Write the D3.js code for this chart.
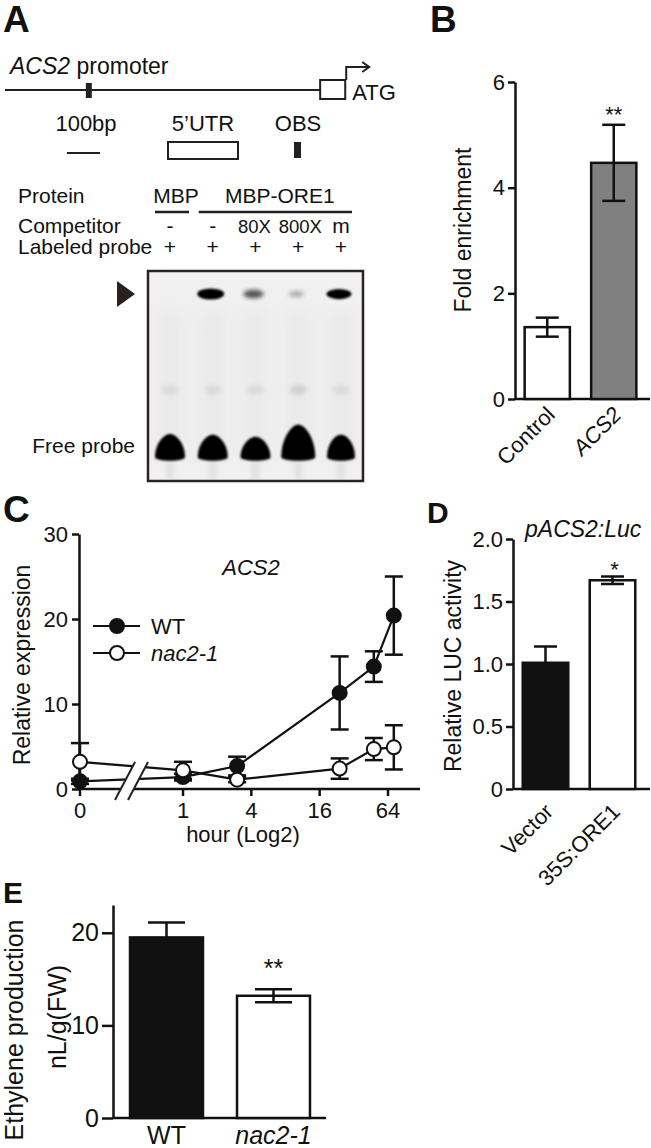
<!DOCTYPE html>
<html><head><meta charset="utf-8">
<script src="https://cdn.jsdelivr.net/npm/d3@7"></script>
<style>
body{margin:0;background:#fff;}
svg text{font-family:"Liberation Sans",Arial,Helvetica,sans-serif;fill:#111;}
</style></head><body>
<svg id="fig" width="651" height="1148"></svg>
<script>
// ---------------- DATA ----------------
// Panel A – promoter diagram (bp)
const promoterLengthBp = 955;
const obsStartBp = 245;
const obsWidthBp = 18;
const utrLengthBp = 76;
const scaleBarBp = 100;
const diagramLabels = ["100bp", "5\u2019UTR", "OBS"];
// Panel A – EMSA
const gelProtein = ["MBP", "MBP-ORE1"];
const gelCompetitor = ["-", "-", "80X", "800X", "m"];
const gelProbe = ["+", "+", "+", "+", "+"];
const complexBand = [0, 1.0, 0.5, 0.12, 0.85];
const freeProbe = [1.0, 0.97, 0.9, 1.35, 0.97];
// Panel B
const bCategories = ["Control", "ACS2"];
const bItalic = [false, true];
const bMeans = [1.36, 4.47];
const bErr = [0.18, 0.72];
const bTicks = [0, 2, 4, 6];
// Panel C
const cTimes = [0, 1, 3, 24, 48, 72];
const wtMean = [0.9, 1.4, 2.7, 11.3, 14.4, 20.4];
const wtErr = [0.3, 0.4, 1.1, 4.3, 1.8, 4.6];
const nacMean = [3.2, 2.2, 1.1, 2.4, 4.7, 4.9];
const nacErr = [2.2, 1.0, 0.3, 1.2, 1.3, 2.6];
const cYTicks = [0, 10, 20, 30];
const cXTicks = [0, 1, 4, 16, 64];
// Panel D
const dCategories = ["Vector", "35S:ORE1"];
const dMeans = [1.01, 1.67];
const dErr = [0.13, 0.03];
const dTicks = [0, 0.5, 1.0, 1.5, 2.0];
const dTickLabels = ["0", "0.5", "1.0", "1.5", "2.0"];
// Panel E
const eCategories = ["WT", "nac2-1"];
const eItalic = [false, true];
const eMeans = [19.5, 13.2];
const eErr = [1.6, 0.7];
const eTicks = [0, 10, 20];

// ---------------- HELPERS ----------------
const FONT = '"Liberation Sans",Arial,Helvetica,sans-serif';
const INK = "#111";
const svg = d3.select("#fig");
svg.append("rect").attr("width", 651).attr("height", 1148).attr("fill", "#fff");
const defs = svg.append("defs");
function blur(id, sd) {
  defs.append("filter").attr("id", id).attr("x", "-80%").attr("y", "-80%")
    .attr("width", "260%").attr("height", "260%")
    .append("feGaussianBlur").attr("stdDeviation", sd);
}
blur("b1", 1.0); blur("b2", 2); blur("b4", 4); blur("b8", 8);

function text(g, t, x, y, size, opts = {}) {
  const el = g.append("text").attr("x", x).attr("y", y).attr("font-size", size)
    .attr("text-anchor", opts.anchor || "start").text(t);
  if (opts.italic) el.attr("font-style", "italic");
  if (opts.bold) el.attr("font-weight", "bold");
  if (opts.rotate !== undefined) el.attr("transform", `rotate(${opts.rotate},${x},${y})`);
  return el;
}
function styleAxis(g, size) {
  g.attr("font-family", FONT).attr("font-size", size);
  g.selectAll("path,line").attr("stroke", INK).attr("stroke-width", 2.5);
  g.selectAll("text").attr("fill", INK);
}
function errorBars(g, cx, yScale, means, errs, capHalf, color) {
  const d = means.map((m, i) => ({ x: cx(i), m, e: errs[i] }));
  const eg = g.append("g").attr("stroke", color || INK).attr("stroke-width", 2.5);
  eg.selectAll(".v").data(d).join("line")
    .attr("x1", p => p.x).attr("x2", p => p.x)
    .attr("y1", p => yScale(p.m - p.e)).attr("y2", p => yScale(p.m + p.e));
  eg.selectAll(".t").data(d).join("line")
    .attr("x1", p => p.x - capHalf).attr("x2", p => p.x + capHalf)
    .attr("y1", p => yScale(p.m + p.e)).attr("y2", p => yScale(p.m + p.e));
  eg.selectAll(".b").data(d).join("line")
    .attr("x1", p => p.x - capHalf).attr("x2", p => p.x + capHalf)
    .attr("y1", p => yScale(p.m - p.e)).attr("y2", p => yScale(p.m - p.e));
}

// ---------------- PANEL LETTERS ----------------
text(svg, "A", 3, 32, 37, { bold: true });
text(svg, "B", 430, 32, 37, { bold: true });
text(svg, "C", 3, 522, 37, { bold: true });
text(svg, "D", 427, 523, 30, { bold: true });
text(svg, "E", 3, 903, 30, { bold: true });

// ---------------- PANEL A: promoter ----------------
const gA = svg.append("g");
const bp = d3.scaleLinear().domain([0, 100]).range([0, 33]);
const pX0 = 5, pY = 90, ink2 = "#231f20";
gA.append("line").attr("x1", pX0).attr("x2", pX0 + bp(promoterLengthBp)).attr("y1", pY).attr("y2", pY)
  .attr("stroke", ink2).attr("stroke-width", 2);
gA.append("rect").attr("x", pX0 + bp(obsStartBp)).attr("width", bp(obsWidthBp)).attr("y", pY - 7).attr("height", 15)
  .attr("fill", ink2);
const utrX = pX0 + bp(promoterLengthBp);
gA.append("rect").attr("x", utrX).attr("width", bp(utrLengthBp)).attr("y", pY - 10).attr("height", 19)
  .attr("fill", "#fff").attr("stroke", ink2).attr("stroke-width", 2);
const arrX = utrX + bp(utrLengthBp) + 1;
gA.append("path").attr("d", `M${arrX},${pY - 10} V${pY - 23} H${arrX + 22}`)
  .attr("fill", "none").attr("stroke", ink2).attr("stroke-width", 2);
gA.append("path").attr("d", `M${arrX + 16},${pY - 28} L${arrX + 23},${pY - 23} L${arrX + 16},${pY - 18}`)
  .attr("fill", "none").attr("stroke", ink2).attr("stroke-width", 2);
const t1 = gA.append("text").attr("x", 10).attr("y", 74).attr("font-size", 23);
t1.append("tspan").attr("font-style", "italic").text("ACS2");
t1.append("tspan").text(" promoter");
text(gA, "ATG", arrX + 6, 100, 22);
// legend of diagram
const legX = [86, 203, 298];
diagramLabels.forEach((l, i) => text(gA, l, legX[i], 131, 22, { anchor: "middle" }));
gA.append("line").attr("x1", 67).attr("x2", 67 + bp(scaleBarBp)).attr("y1", 153).attr("y2", 153)
  .attr("stroke", ink2).attr("stroke-width", 2);
gA.append("rect").attr("x", 168).attr("y", 142).attr("width", 70).attr("height", 17)
  .attr("fill", "#fff").attr("stroke", ink2).attr("stroke-width", 2);
gA.append("rect").attr("x", 294).attr("y", 142).attr("width", 7).attr("height", 16).attr("fill", ink2);

// ---------------- PANEL A: EMSA ----------------
const lane = d3.scalePoint().domain(d3.range(gelCompetitor.length)).range([170, 341]);
text(gA, "Protein", 18, 203, 21);
text(gA, "Competitor", 18, 233, 21);
text(gA, "Labeled probe", 18, 254, 21);
text(gA, gelProtein[0], lane(0) + 6, 203, 21, { anchor: "middle" });
text(gA, gelProtein[1], (lane(1) + lane(4)) / 2 + 3, 203, 21, { anchor: "middle" });
gA.append("line").attr("x1", lane(0) - 15).attr("x2", lane(0) + 19).attr("y1", 212).attr("y2", 212)
  .attr("stroke", ink2).attr("stroke-width", 2.5);
gA.append("line").attr("x1", lane(1) - 14).attr("x2", lane(4) + 11).attr("y1", 212).attr("y2", 212)
  .attr("stroke", ink2).attr("stroke-width", 2.5);
gelCompetitor.forEach((c, i) => text(gA, c, lane(i) + (i === 3 ? 2 : i === 2 ? -1 : 0), 233, c.length > 1 ? 18.5 : 21, { anchor: "middle" }));
gelProbe.forEach((c, i) => text(gA, c, lane(i), 254, 21, { anchor: "middle" }));

const gelTop = 271, gelBot = 481, gelL = lane(0) - 22, gelR = lane(4) + 22;
const gel = gA.append("g");
gel.append("rect").attr("x", gelL).attr("y", gelTop).attr("width", gelR - gelL).attr("height", gelBot - gelTop)
  .attr("fill", "#f0f0f0");
// smears
gelCompetitor.forEach((c, i) => {
  gel.append("rect").attr("x", lane(i) - 13).attr("y", 310).attr("width", 26).attr("height", 150)
    .attr("fill", "#999").attr("opacity", 0.07).attr("filter", "url(#b8)");
  gel.append("ellipse").attr("cx", lane(i)).attr("cy", 390).attr("rx", 9).attr("ry", 5)
    .attr("fill", "#888").attr("opacity", i === 3 ? 0.25 : 0.15).attr("filter", "url(#b2)");
  gel.append("rect").attr("x", lane(i) - 4).attr("y", 462).attr("width", 8).attr("height", 17)
    .attr("fill", "#aaa").attr("opacity", 0.2).attr("filter", "url(#b2)");
});
// shifted complex bands
const bandW = d3.scaleLinear().domain([0, 1]).range([14, 27]);
complexBand.forEach((v, i) => {
  if (v <= 0) return;
  gel.append("ellipse").attr("cx", lane(i) - 2).attr("cy", 294).attr("rx", bandW(v) / 2).attr("ry", 3 + 2.5 * v)
    .attr("fill", "#000").attr("opacity", Math.min(1, 0.15 + v)).attr("filter", v > 0.6 ? "url(#b1)" : "url(#b2)");
});
// free probe blobs
const blobH = d3.scaleLinear().domain([0, 1]).range([0, 27]);
freeProbe.forEach((v, i) => {
  const h = blobH(v), w = 15 + (i === 3 ? 2 : 0) - (i === 4 ? 1 : 0), cx = lane(i), b = 461;
  gel.append("path")
    .attr("d", `M${cx - w},${b - 4} C${cx - w},${b - h * 0.6} ${cx - 7},${b - h} ${cx},${b - h}
      C${cx + 7},${b - h} ${cx + w},${b - h * 0.6} ${cx + w},${b - 4}
      C${cx + w},${b + 1} ${cx - w},${b + 1} ${cx - w},${b - 4} Z`)
    .attr("fill", "#000").attr("filter", "url(#b1)");
});
gel.append("rect").attr("x", gelL).attr("y", gelTop).attr("width", gelR - gelL).attr("height", gelBot - gelTop)
  .attr("fill", "none").attr("stroke", "#2a2320").attr("stroke-width", 2.5);
gA.append("path").attr("d", "M117,281 L135,294 L117,307 Z").attr("fill", "#2a2020");
text(gA, "Free probe", 135, 453, 21, { anchor: "end" });

// ---------------- PANEL B ----------------
const gB = svg.append("g");
const yB = d3.scaleLinear().domain([0, 6]).range([399, 82]);
const xB = d3.scaleBand().domain(bCategories).range([514, 647]).paddingInner(0.32).paddingOuter(0.16);
gB.append("g").attr("transform", "translate(515,0)")
  .call(d3.axisLeft(yB).tickValues(bTicks).tickSize(7).tickSizeOuter(0).tickPadding(3).tickFormat(d3.format("d")))
  .call(g => styleAxis(g, 22));
gB.append("line").attr("x1", 515).attr("x2", 650).attr("y1", yB(0)).attr("y2", yB(0))
  .attr("stroke", INK).attr("stroke-width", 2.5);
gB.selectAll(".bar").data(bCategories).join("rect")
  .attr("x", d => xB(d)).attr("width", xB.bandwidth())
  .attr("y", (d, i) => yB(bMeans[i])).attr("height", (d, i) => yB(0) - yB(bMeans[i]))
  .attr("fill", (d, i) => i === 0 ? "#fff" : "#808080").attr("stroke", INK).attr("stroke-width", 2.5);
errorBars(gB, i => xB(bCategories[i]) + xB.bandwidth() / 2, yB, bMeans, bErr, 11.5);
gB.selectAll(".xl").data(bCategories).join("text")
  .attr("transform", d => `translate(${xB(d) + xB.bandwidth() / 2 + 9},${yB(0) + 17}) rotate(-45)`)
  .attr("text-anchor", "end").attr("font-size", 22)
  .attr("font-style", (d, i) => bItalic[i] ? "italic" : "normal").text(d => d);
text(gB, "**", xB("ACS2") + xB.bandwidth() / 2, 122, 22, { anchor: "middle" });
text(gB, "Fold enrichment", 471, 230, 23, { anchor: "middle", rotate: -90 });

// ---------------- PANEL C ----------------
const gC = svg.append("g");
const yC = d3.scaleLinear().domain([0, 30]).range([789, 534]);
const xCLog = d3.scaleLog().base(2).domain([1, 64]).range([183, 388]);
const cAxisX = 79;
const xC = t => t === 0 ? cAxisX + 1 : xCLog(t);
gC.append("g").attr("transform", `translate(${cAxisX},0)`)
  .call(d3.axisLeft(yC).tickValues(cYTicks).tickSize(7).tickSizeOuter(0).tickPadding(4))
  .call(g => styleAxis(g, 22));
gC.append("line").attr("x1", cAxisX).attr("x2", 420).attr("y1", yC(0)).attr("y2", yC(0))
  .attr("stroke", INK).attr("stroke-width", 2.5);
gC.selectAll(".xt").data(cXTicks).join("line")
  .attr("x1", d => xC(d)).attr("x2", d => xC(d)).attr("y1", yC(0)).attr("y2", yC(0) + 7)
  .attr("stroke", INK).attr("stroke-width", 2.5);
gC.selectAll(".xtl").data(cXTicks).join("text")
  .attr("x", d => xC(d)).attr("y", 818).attr("text-anchor", "middle").attr("font-size", 22).text(d => d);
text(gC, "hour (Log2)", 243, 842, 22, { anchor: "middle" });
text(gC, "Relative expression", 30, 665, 23, { anchor: "middle", rotate: -90 });
text(gC, "ACS2", 251, 575, 22, { anchor: "middle", italic: true });

const wtData = cTimes.map((t, i) => ({ t, v: wtMean[i], e: wtErr[i] }));
const nacData = cTimes.map((t, i) => ({ t, v: nacMean[i], e: nacErr[i] }));
const lineGen = d3.line().x(d => xC(d.t)).y(d => yC(d.v));
[nacData, wtData].forEach(ds => {
  gC.append("path").attr("d", lineGen(ds)).attr("fill", "none").attr("stroke", INK).attr("stroke-width", 2.2);
});
// axis break
const bx = (xC(0) + xC(1)) / 2;
const brk = [[bx - 16.5, 800], [bx + 3.5, 762], [bx + 16.5, 762], [bx - 3.5, 800]];
gC.append("path").attr("d", d3.line()(brk) + "Z").attr("fill", "#fff");
gC.append("line").attr("x1", brk[0][0]).attr("y1", brk[0][1]).attr("x2", brk[1][0]).attr("y2", brk[1][1])
  .attr("stroke", "#222").attr("stroke-width", 2);
gC.append("line").attr("x1", brk[3][0]).attr("y1", brk[3][1]).attr("x2", brk[2][0]).attr("y2", brk[2][1])
  .attr("stroke", "#222").attr("stroke-width", 2);
[wtData, nacData].forEach(ds => {
  errorBars(gC, i => xC(ds[i].t), yC, ds.map(d => d.v), ds.map(d => d.e), 9);
});
gC.selectAll(".wt").data(wtData).join("circle")
  .attr("cx", d => xC(d.t)).attr("cy", d => yC(d.v)).attr("r", 7)
  .attr("fill", INK).attr("stroke", INK).attr("stroke-width", 2);
gC.selectAll(".nac").data(nacData).join("circle")
  .attr("cx", d => xC(d.t)).attr("cy", d => yC(d.v)).attr("r", 7)
  .attr("fill", "#fff").attr("stroke", INK).attr("stroke-width", 2);
// legend
[["WT", INK, false, 626], ["nac2-1", "#fff", true, 653]].forEach(([lab, fill, it, y]) => {
  gC.append("line").attr("x1", 93).attr("x2", 140).attr("y1", y).attr("y2", y)
    .attr("stroke", INK).attr("stroke-width", 2.2);
  gC.append("circle").attr("cx", 117).attr("cy", y).attr("r", 7).attr("fill", fill)
    .attr("stroke", INK).attr("stroke-width", 2);
  text(gC, lab, 151, y + 8, 22, { italic: it });
});

// ---------------- PANEL D ----------------
const gD = svg.append("g");
const yD = d3.scaleLinear().domain([0, 2]).range([789, 539]);
const xD = d3.scaleBand().domain(dCategories).range([512, 646]).paddingInner(0.32).paddingOuter(0.16);
gD.append("g").attr("transform", "translate(513,0)")
  .call(d3.axisLeft(yD).tickValues(dTicks).tickSize(7).tickSizeOuter(0).tickPadding(3)
    .tickFormat((d, i) => dTickLabels[i]))
  .call(g => styleAxis(g, 22));
gD.append("line").attr("x1", 513).attr("x2", 650).attr("y1", yD(0)).attr("y2", yD(0))
  .attr("stroke", INK).attr("stroke-width", 2.5);
gD.selectAll(".bar").data(dCategories).join("rect")
  .attr("x", d => xD(d)).attr("width", xD.bandwidth())
  .attr("y", (d, i) => yD(dMeans[i])).attr("height", (d, i) => yD(0) - yD(dMeans[i]))
  .attr("fill", (d, i) => i === 0 ? INK : "#fff").attr("stroke", INK).attr("stroke-width", 2.5);
errorBars(gD, i => xD(dCategories[i]) + xD.bandwidth() / 2, yD, dMeans, dErr, 11.5);
gD.selectAll(".xl").data(dCategories).join("text")
  .attr("transform", d => `translate(${xD(d) + xD.bandwidth() / 2 + 9},${yD(0) + 24}) rotate(-45)`)
  .attr("text-anchor", "end").attr("font-size", 22).text(d => d);
text(gD, "*", xD("35S:ORE1") + xD.bandwidth() / 2 + 2, 577, 22, { anchor: "middle" });
text(gD, "pACS2:Luc", 525, 537, 23, { italic: true });
text(gD, "Relative LUC activity", 461, 666, 23, { anchor: "middle", rotate: -90 });

// ---------------- PANEL E ----------------
const gE = svg.append("g");
const yE = d3.scaleLinear().domain([0, 23]).range([1118, 905]);
const xE = d3.scaleBand().domain(eCategories).range([113, 327]).paddingInner(0.318).paddingOuter(0.159);
gE.append("g").attr("transform", "translate(113,0)")
  .call(d3.axisLeft(yE).tickValues(eTicks).tickSize(11).tickSizeOuter(0).tickPadding(3))
  .call(g => styleAxis(g, 25));
gE.append("line").attr("x1", 113).attr("x2", 326).attr("y1", yE(0)).attr("y2", yE(0))
  .attr("stroke", INK).attr("stroke-width", 2.5);
gE.selectAll(".bar").data(eCategories).join("rect")
  .attr("x", d => xE(d)).attr("width", xE.bandwidth())
  .attr("y", (d, i) => yE(eMeans[i])).attr("height", (d, i) => yE(0) - yE(eMeans[i]))
  .attr("fill", (d, i) => i === 0 ? INK : "#fff").attr("stroke", INK).attr("stroke-width", 2.5);
errorBars(gE, i => xE(eCategories[i]) + xE.bandwidth() / 2, yE, eMeans, eErr, 18.5);
gE.selectAll(".xl").data(eCategories).join("text")
  .attr("x", d => xE(d) + xE.bandwidth() / 2).attr("y", 1144).attr("text-anchor", "middle")
  .attr("font-size", 25).attr("font-style", (d, i) => eItalic[i] ? "italic" : "normal").text(d => d);
text(gE, "**", xE("nac2-1") + xE.bandwidth() / 2, 977, 25, { anchor: "middle" });
text(gE, "Ethylene production", 23, 1030, 25, { anchor: "middle", rotate: -90 });
text(gE, "nL/g(FW)", 66, 1017, 25, { anchor: "middle", rotate: -90 });
</script></body></html>
